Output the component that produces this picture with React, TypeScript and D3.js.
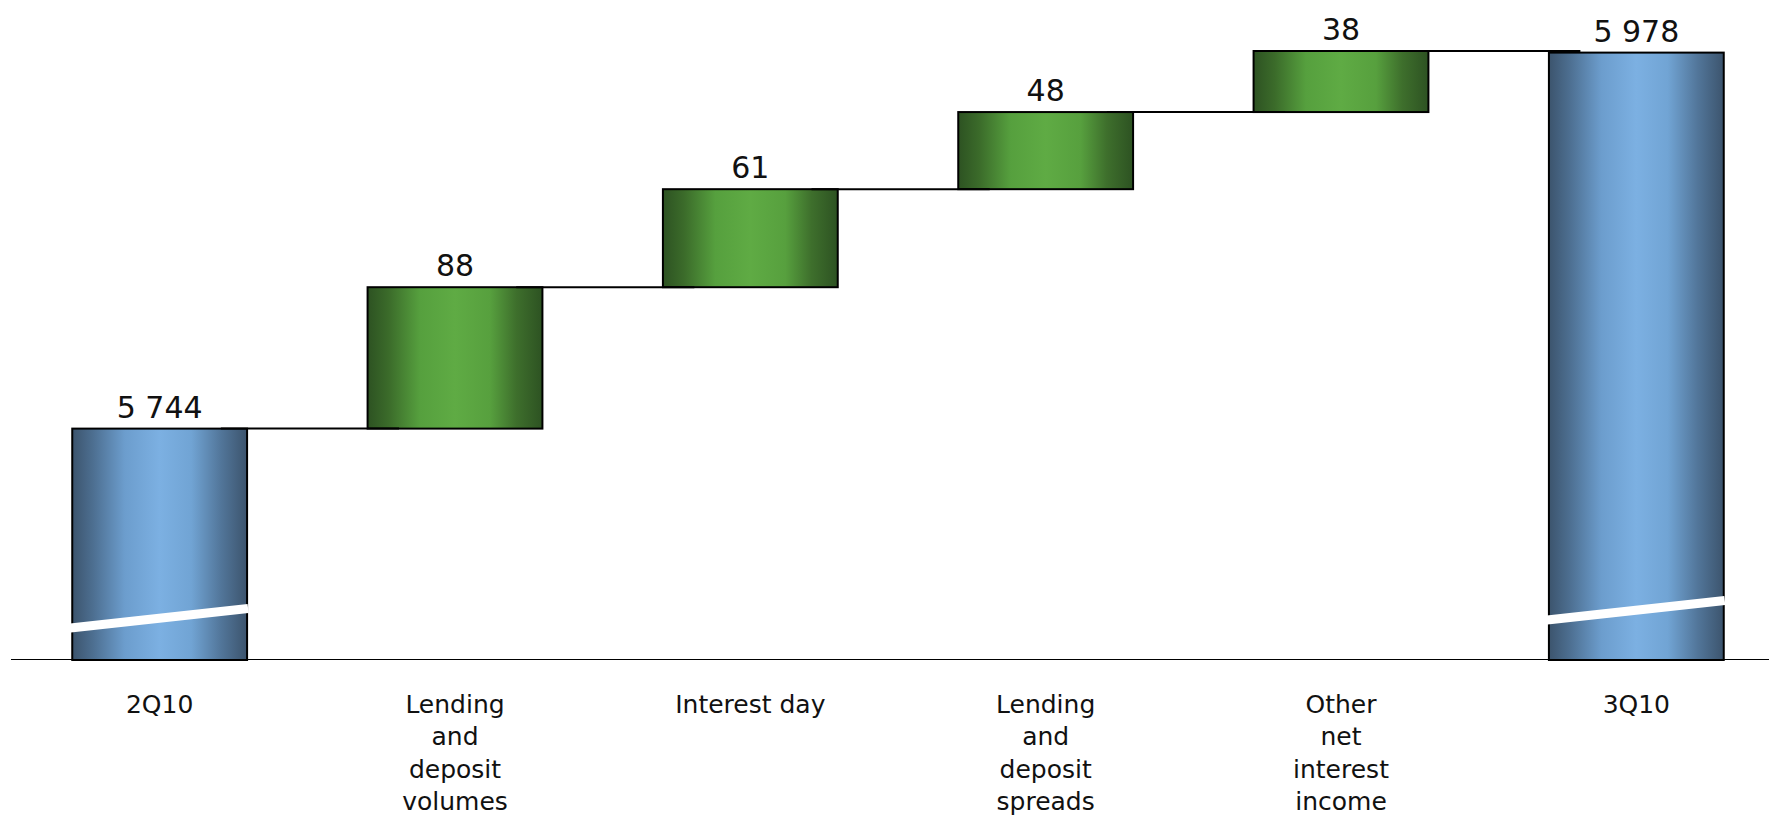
import React from "react";
import * as d3 from "d3";

const categories = ["2Q10", "Lending and deposit volumes", "Interest day", "Lending and deposit spreads", "Other net interest income", "3Q10"];
const labelLines = [["2Q10"], ["Lending", "and", "deposit", "volumes"], ["Interest day"], ["Lending", "and", "deposit", "spreads"], ["Other", "net", "interest", "income"], ["3Q10"]];
const values = [5744, 88, 61, 48, 38, 5978];
const kinds = ["total", "delta", "delta", "delta", "delta", "total"];
const axisBase = 5600;
const breakValues = [5626, 5631];

const W = 1769;
const H = 817;

const fmt = d3.formatLocale({ decimal: ",", thousands: " ", grouping: [3], currency: ["", ""] }).format(",d");

export default function App() {
  const x = d3.scaleBand<string>().domain(categories).range([12, 1784]).paddingInner(0.408).paddingOuter(0.204);
  const y = d3.scaleLinear().domain([axisBase, 5979]).range([660, 51]);
  const bw = x.bandwidth();

  let run = 0;
  const bars = categories.map((c, i) => {
    let lo: number, hi: number;
    if (kinds[i] === "total") {
      lo = axisBase;
      hi = values[i];
      run = values[i];
    } else {
      lo = run;
      hi = run + values[i];
      run = hi;
    }
    return { c, i, lo, hi, kind: kinds[i], x0: x(c) as number };
  });

  let totalIdx = 0;
  return (
    <div style={{ position: "absolute", left: 0, top: 0 }}>
      <svg width={W} height={H} style={{ display: "block", background: "#fff" }}>
        <defs>
          <linearGradient id="gBlue" x1="0" x2="1" y1="0" y2="0">
            <stop offset="0" stopColor="#3c546d" />
            <stop offset="0.12" stopColor="#4d6f91" />
            <stop offset="0.3" stopColor="#6c9dcd" />
            <stop offset="0.5" stopColor="#7cb0e2" />
            <stop offset="0.68" stopColor="#71a4d4" />
            <stop offset="0.85" stopColor="#52769a" />
            <stop offset="1" stopColor="#3c546d" />
          </linearGradient>
          <linearGradient id="gGreen" x1="0" x2="1" y1="0" y2="0">
            <stop offset="0" stopColor="#2d5222" />
            <stop offset="0.12" stopColor="#3b6b2a" />
            <stop offset="0.3" stopColor="#56a03e" />
            <stop offset="0.5" stopColor="#5fab44" />
            <stop offset="0.7" stopColor="#57a03e" />
            <stop offset="0.85" stopColor="#3e6f2c" />
            <stop offset="1" stopColor="#2d5222" />
          </linearGradient>
        </defs>
        <line x1={11} x2={W} y1={659.5} y2={659.5} stroke="#000" strokeWidth={1.2} />
        {bars.map((b) => (
          <rect
            key={b.c}
            x={b.x0}
            y={y(b.hi)}
            width={bw}
            height={y(b.lo) - y(b.hi)}
            fill={b.kind === "total" ? "url(#gBlue)" : "url(#gGreen)"}
            stroke="#000"
            strokeWidth={2}
          />
        ))}
        {bars.slice(0, -1).map((b, i) => {
          const nx = bars[i + 1];
          const yy = y(b.hi);
          return (
            <line key={"c" + i} x1={b.x0 + bw * 0.85} x2={nx.x0 + bw * 0.18} y1={yy} y2={yy} stroke="#000" strokeWidth={2} />
          );
        })}
        {bars.map((b) => {
          if (b.kind !== "total") return null;
          const bv = breakValues[totalIdx++];
          const yc = y(bv);
          const slope = 0.11;
          const xl = b.x0 - 20;
          const xr = b.x0 + bw + 1;
          const xc = b.x0 + bw / 2;
          return (
            <line key={"br" + b.c} x1={xl} x2={xr} y1={yc + (xc - xl) * slope} y2={yc - (xr - xc) * slope} stroke="#fff" strokeWidth={9} />
          );
        })}
        {bars.map((b) => (
          <text
            key={"v" + b.c}
            x={b.x0 + bw / 2}
            y={y(b.hi) - 11}
            textAnchor="middle"
            fontFamily="DejaVu Sans"
            fontSize={30}
            fill="#111"
          >
            {fmt(values[b.i])}
          </text>
        ))}
        {bars.map((b) => (
          <text key={"l" + b.c} textAnchor="middle" fontFamily="DejaVu Sans" fontSize={25} fill="#111">
            {labelLines[b.i].map((t, k) => (
              <tspan key={k} x={b.x0 + bw / 2} y={713 + k * 32.3}>
                {t}
              </tspan>
            ))}
          </text>
        ))}
      </svg>
    </div>
  );
}
